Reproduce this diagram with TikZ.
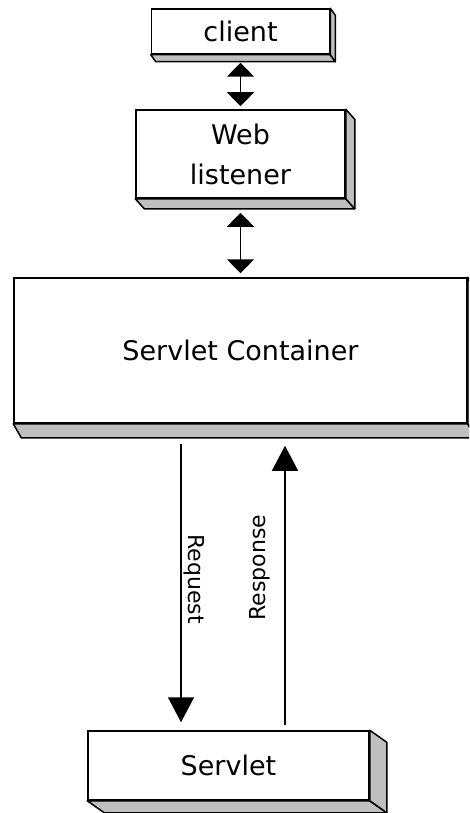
\documentclass[tikz,border=0pt]{standalone}
\usepackage{fontspec}
\setmainfont{DejaVu Sans}
\usetikzlibrary{arrows.meta}
\tikzset{
	block/.style={draw, line width=1.5pt, fill=white, align=center, inner sep=0pt, font=\fontsize{27}{40}\selectfont},
	face/.style={draw, line width=1.5pt, fill=black!25, line join=round},
	link/.style={line width=1.5pt, {Triangle[width=27pt, length=14pt]}-{Triangle[width=27pt, length=14pt]}},
	flow/.style={line width=1.5pt, -{Triangle[width=26pt, length=25pt]}},
	tag/.style={font=\fontsize{22}{26}\selectfont, inner sep=0pt},
}
% grey bottom and right faces of a box
\newcommand{\boxfaces}[3]{%
	\draw[face] (#1.south west) -- (#1.south east) -- ([shift={(#2,#3)}]#1.south east) -- ([shift={(#2,#3)}]#1.south west) -- cycle;
	\draw[face] (#1.north east) -- ([shift={(#2,#3)}]#1.north east) -- ([shift={(#2,#3)}]#1.south east) -- (#1.south east) -- cycle;
}

\begin{document}
\begin{tikzpicture}[x=1pt, y=-1pt]
		\useasboundingbox (0,0) rectangle (469,813);
		\clip (0,0) rectangle (469,813);

		% Boxes
		\node[block, minimum width=178pt, minimum height=45pt] (client) at (240.5,31.5) {client};
		\boxfaces{client}{5}{7}
		\node[block, minimum width=209pt, minimum height=88pt] (web) at (240.5,154) {Web\\listener};
		\boxfaces{web}{9}{10}
		\node[block, minimum width=453pt, minimum height=145pt] (container) at (240.5,350.5) {Servlet Container};
		\boxfaces{container}{8}{14}
		\node[block, minimum width=281pt, minimum height=69pt] (servlet) at (228.5,765.5) {Servlet};
		\boxfaces{servlet}{17}{12}

		% Connectors
		\draw[link, shorten <=8pt, shorten >=3pt] (client.south) -- (web.north);
		\draw[link, shorten <=14pt, shorten >=4pt] (web.south) -- (container.north);

		\coordinate (reqx) at (181,0);
		\coordinate (resx) at (285,0);
		\draw[flow, shorten <=20pt, shorten >=8pt] (container.south -| reqx) -- (servlet.north -| reqx);
		\draw[flow, shorten <=5pt, shorten >=22pt] (servlet.north -| resx) -- (container.south -| resx);

		\node[tag, rotate=-90] (request) at (194,579) {Request};
		\node[tag, rotate=90] (response) at (259.5,567.5) {Response};
	\end{tikzpicture}
\end{document}
